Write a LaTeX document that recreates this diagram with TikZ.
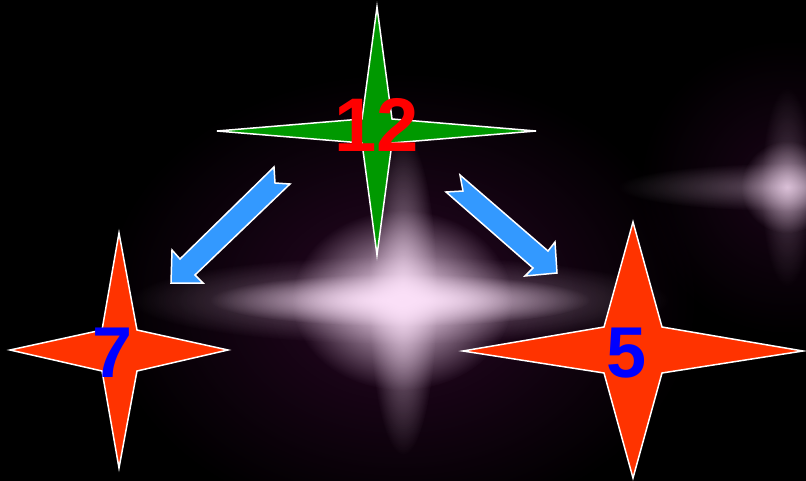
\documentclass[tikz,border=0pt]{standalone}
\usepackage{fontspec}
\setmainfont{Liberation Sans}
\usetikzlibrary{fadings}
\definecolor{starred}{HTML}{FF3300}
\definecolor{stargreen}{HTML}{009900}
\definecolor{arrowblue}{HTML}{3399FF}
\definecolor{glowpink}{HTML}{FBE0F8}
\definecolor{haze}{HTML}{3A0A35}
\tikzfading[name=glowfade, inner color=transparent!0, outer color=transparent!100]
\begin{document}
\begin{tikzpicture}[x=1pt,y=-1pt,
  starshape/.style={draw=white, line width=1.5pt, line join=miter},
  blockarrow/.style={fill=arrowblue, draw=white, line width=1.5pt, line join=miter},
  glow/.style={path fading=glowfade},
  numlabel/.style={anchor=base, inner sep=0pt, font=\bfseries\fontsize{76}{76}\selectfont}]
\useasboundingbox (0,0) rectangle (806,481);
\fill[black] (0,0) rectangle (806,481);
% central glow
\fill[haze, opacity=0.7, glow] (400,300) ellipse (300 and 230);
\fill[glowpink, opacity=0.45, glow] (400,300) ellipse (270 and 44);
\fill[glowpink, glow] (400,300) ellipse (190 and 26);
\fill[glowpink, opacity=0.65, glow] (403,295) ellipse (34 and 160);
\fill[glowpink, glow] (402,300) ellipse (110 and 90);
% right glow
\fill[haze, opacity=0.45, glow] (787,187) ellipse (150 and 150);
\fill[glowpink, opacity=0.35, glow] (787,187) ellipse (170 and 24);
\fill[glowpink, opacity=0.25, glow] (787,187) ellipse (26 and 100);
\fill[glowpink, opacity=0.7, glow] (787,187) ellipse (46 and 46);
% named centres
\coordinate (top) at (377,131);
\coordinate (left) at (119,350);
\coordinate (right) at (633,351);
% arrows
\draw[blockarrow] (274,167) -- (275,183) -- (290,184) -- (195,275) -- (203,283)
  -- (171,283) -- (172,250) -- (180,259) -- cycle;
\draw[blockarrow] (460,175) -- (548,251) -- (555,242) -- (557,273) -- (525,276)
  -- (533,268) -- (446,192) -- (463,191) -- cycle;
% stars
\filldraw[starshape, fill=stargreen] (377,7) -- (392,119) -- (536,131) -- (392,143)
  -- (377,255) -- (362,143) -- (217,131) -- (362,119) -- cycle;
\filldraw[starshape, fill=starred] (119,233) -- (137,330) -- (228,350) -- (137,371)
  -- (119,468) -- (102,371) -- (10,350) -- (102,330) -- cycle;
\filldraw[starshape, fill=starred] (633,222) -- (662,327) -- (803,351) -- (662,373)
  -- (633,478) -- (604,373) -- (463,351) -- (604,327) -- cycle;
% labels
\node[numlabel, text=red] (n12) at (377,152) {12};
\node[numlabel, text=blue, font=\bfseries\fontsize{72}{72}\selectfont] (n7) at (113,377) {7};
\node[numlabel, text=blue, font=\bfseries\fontsize{72}{72}\selectfont] (n5) at (627,377) {5};
\end{tikzpicture}
\end{document}
